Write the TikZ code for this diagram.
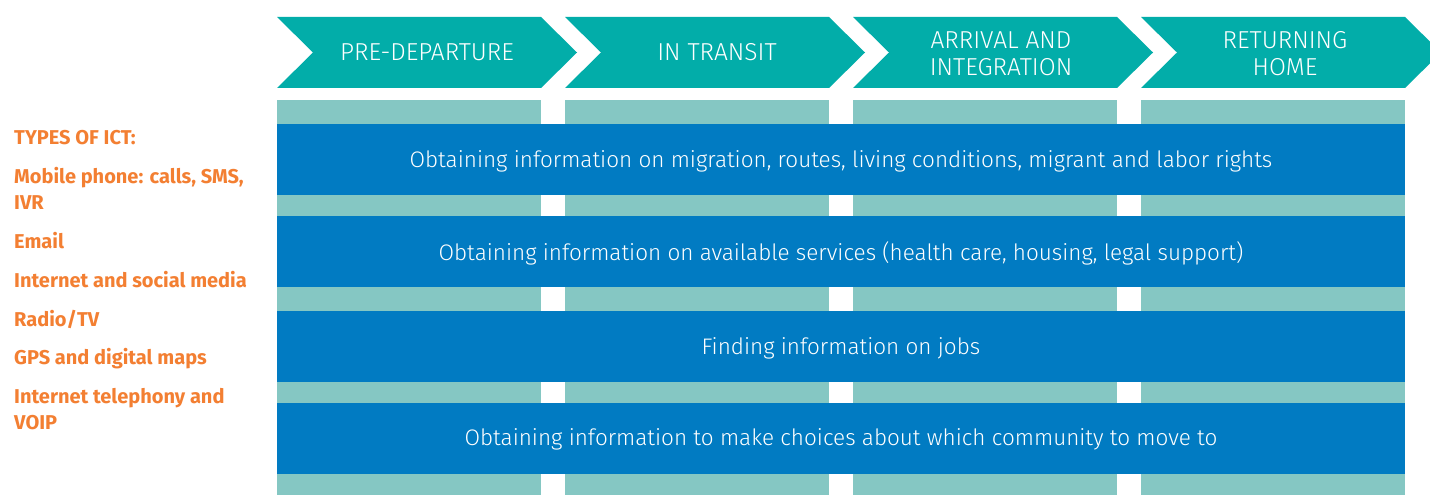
\documentclass[tikz,border=0pt]{standalone}
\usepackage{fontspec}
\setmainfont{Fira Sans}
\newfontfamily\lightfont{Fira Sans Light}
\definecolor{chev}{HTML}{02ADA9}
\definecolor{pale}{HTML}{85C7C3}
\definecolor{band}{HTML}{017BC2}
\definecolor{ictorange}{HTML}{F37F32}
\tikzset{
  chevlabel/.style={text=white,font=\lightfont\fontsize{24.5}{27}\selectfont,align=center,inner sep=0pt},
  bandlabel/.style={text=white,font=\lightfont\fontsize{22.5}{26}\selectfont,inner sep=0pt},
  ictlabel/.style={text=ictorange,font=\bfseries\fontsize{20}{26}\selectfont,align=left,anchor=base west,inner sep=0pt},
}
\begin{document}
\begin{tikzpicture}[x=1pt,y=-1pt]
\clip (0,0) rectangle (1430,495);
\fill[white] (0,0) rectangle (1430,495);
% chevrons
\foreach \i in {0,1,2,3}{
  \pgfmathsetmacro{\xo}{277+288*\i}
  \fill[chev] (\xo,17) -- ({\xo+264},17) -- ({\xo+300},52.5) -- ({\xo+264},88) -- (\xo,88) -- ({\xo+36},52.5) -- cycle;
  % pale column bars
  \fill[pale] (\xo,100) rectangle ({\xo+264},495);
}
% blue bands
\fill[band] (277,124) rectangle (1405,195);
\fill[band] (277,216) rectangle (1405,287);
\fill[band] (277,311) rectangle (1405,382);
\fill[band] (277,403) rectangle (1405,474);
% chevron labels
\node[chevlabel] (c1) at (427,52.5) {PRE-DEPARTURE};
\node[chevlabel] (c2) at (717,52.5) {IN TRANSIT};
\node[chevlabel] (c3) at (1001,54) {ARRIVAL AND\\INTEGRATION};
\node[chevlabel] (c4) at (1285,54) {RETURNING\\HOME};
% band labels
\node[bandlabel] (b1) at (841,161) {Obtaining information on migration, routes, living conditions, migrant and labor rights};
\node[bandlabel] (b2) at (841,253) {Obtaining information on available services (health care, housing, legal support)};
\node[bandlabel] (b3) at (841,348) {Finding information on jobs};
\node[bandlabel] (b4) at (841,439) {Obtaining information to make choices about which community to move to};
% ICT types
\node[ictlabel] (t0) at (14,144) {TYPES OF ICT:};
\node[ictlabel] (t1) at (14,209) {Mobile phone: calls, SMS,\\IVR};
\node[ictlabel] (t2) at (14,248) {Email};
\node[ictlabel] (t3) at (14,287) {Internet and social media};
\node[ictlabel] (t4) at (14,326) {Radio/TV};
\node[ictlabel] (t5) at (14,364) {GPS and digital maps};
\node[ictlabel] (t6) at (14,429) {Internet telephony and\\VOIP};
\end{tikzpicture}
\end{document}
